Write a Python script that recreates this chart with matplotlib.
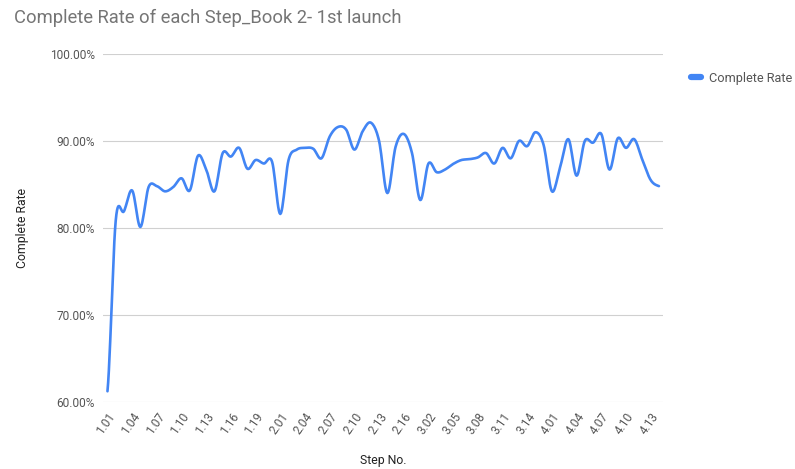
import matplotlib.pyplot as plt
import numpy as np
from matplotlib.ticker import FuncFormatter, MultipleLocator

plt.rcParams['font.family'] = ['Roboto', 'DejaVu Sans']

# step numbers per chapter
steps = ([f"1.{i:02d}" for i in range(1, 22)] +
         [f"2.{i:02d}" for i in range(1, 18)] +
         [f"3.{i:02d}" for i in range(1, 17)] +
         [f"4.{i:02d}" for i in range(1, 15)])

complete_rate = [
    61.2, 80.8, 81.9, 84.3, 80.1, 84.7, 84.8, 84.2, 84.7, 85.7,
    84.3, 88.3, 86.7, 84.2, 88.6, 88.2, 89.2, 86.8, 87.8, 87.4,
    87.6, 81.6, 87.8, 89.0, 89.2, 89.1, 88.0, 90.5, 91.6, 91.3,
    89.0, 91.1, 92.1, 90.0, 84.0, 89.3, 90.8, 88.6, 83.2, 87.4,
    86.4, 86.7, 87.35, 87.8, 87.9, 88.1, 88.6, 87.4, 89.2, 88.0,
    90.0, 89.4, 91.0, 89.5, 84.2, 87.0, 90.2, 86.0, 90.0, 89.8,
    90.8, 86.7, 90.3, 89.2, 90.2, 87.8, 85.5, 84.8,
]

LINE_COLOR = '#4285F4'
GRID_COLOR = '#d0d0d0'
TEXT_COLOR = '#555555'


def smooth_curve(y, samples=12):
    # Catmull-Rom spline through every point
    y = np.asarray(y, dtype=float)
    p = np.concatenate([[y[0]], y, [y[-1]]])
    xs, ys = [], []
    t = np.linspace(0, 1, samples, endpoint=False)
    for i in range(len(y) - 1):
        p0, p1, p2, p3 = p[i], p[i + 1], p[i + 2], p[i + 3]
        seg = 0.5 * ((2 * p1) + (-p0 + p2) * t +
                     (2 * p0 - 5 * p1 + 4 * p2 - p3) * t ** 2 +
                     (-p0 + 3 * p1 - 3 * p2 + p3) * t ** 3)
        xs.append(i + t)
        ys.append(seg)
    xs.append([len(y) - 1])
    ys.append([y[-1]])
    return np.concatenate(xs), np.concatenate(ys)


fig = plt.figure(figsize=(7.95, 4.69), dpi=100)
ax = fig.add_axes([0.130, 0.1435, 0.704, 0.7414])

cx, cy = smooth_curve(complete_rate)
ax.plot(cx, cy, color=LINE_COLOR, linewidth=1.9, label='Complete Rate',
        solid_capstyle='round')

ax.set_xlim(-0.5, len(steps) - 0.5)
ax.set_ylim(60, 100)
ax.yaxis.set_major_locator(MultipleLocator(10))
ax.yaxis.set_major_formatter(FuncFormatter(lambda v, _: f"{v:.2f}%"))

tick_pos = list(range(0, len(steps), 3))
ax.set_xticks(tick_pos)
ax.set_xticklabels([steps[i] for i in tick_pos], rotation=55, ha='right',
                   rotation_mode='anchor')

ax.grid(axis='y', color=GRID_COLOR, linewidth=0.8)
ax.set_axisbelow(True)
for s in ax.spines.values():
    s.set_visible(False)
ax.tick_params(axis='both', length=0, colors=TEXT_COLOR, labelsize=8.6)
ax.tick_params(axis='y', pad=6)
ax.tick_params(axis='x', pad=6)

ax.set_ylabel("Complete Rate", fontsize=8.8, color='#222222', labelpad=15)
fig.text(0.4818, 0.019, "Step No.", fontsize=8.8, color='#222222',
         ha='center', va='center')

fig.text(0.017, 0.962, "Complete Rate of each Step_Book 2- 1st launch",
         fontsize=13.2, color='#757575', va='center', ha='left')

ax.legend(loc='upper left', bbox_to_anchor=(1.018, 1.0), frameon=False,
          fontsize=9.2, handlelength=0.8, handletextpad=0.6,
          labelcolor=TEXT_COLOR, borderaxespad=1.0)
leg = ax.get_legend()
leg.get_lines()[0].set_linewidth(4.5)

fig.savefig("out.png", dpi=100)
